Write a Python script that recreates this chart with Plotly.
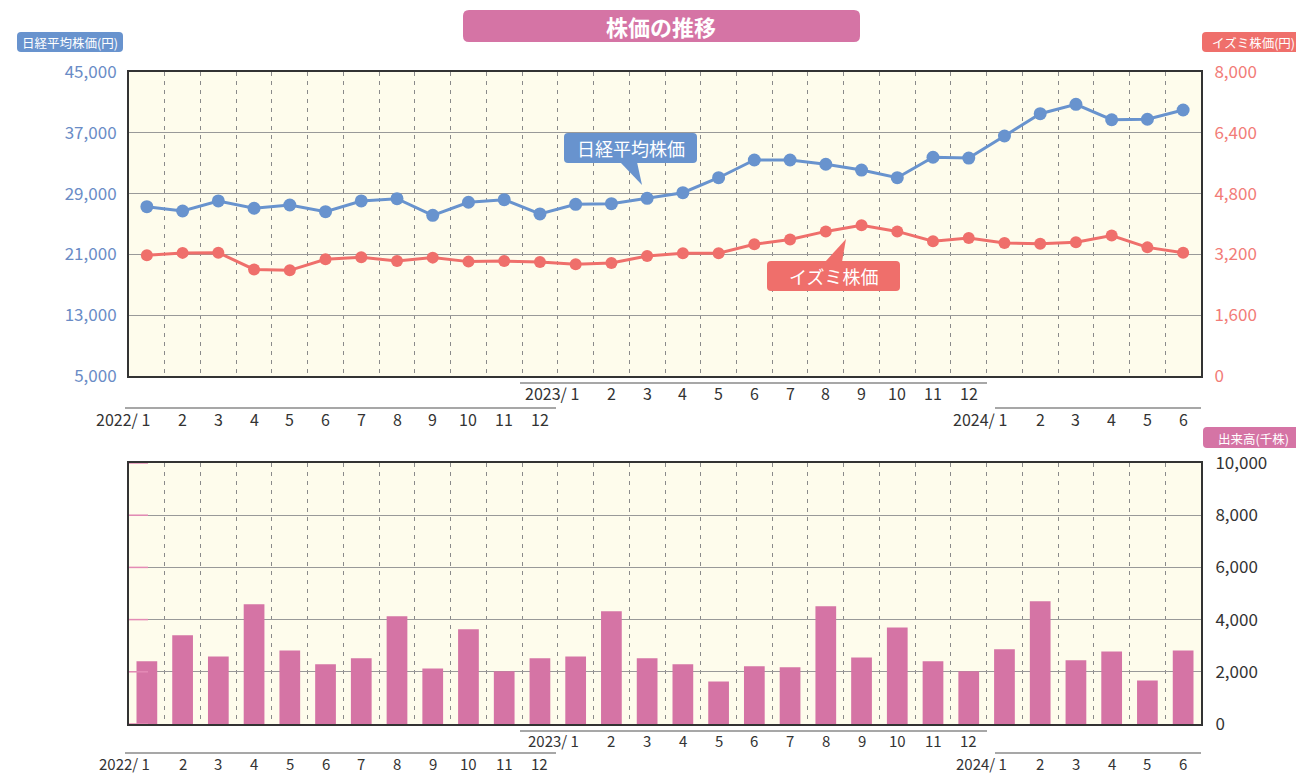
import plotly.graph_objects as go

# ----------------------------------------
# data
# ----------------------------------------
years = [2022] * 12 + [2023] * 12 + [2024] * 6
months = list(range(1, 13)) + list(range(1, 13)) + list(range(1, 7))

nikkei = [27280, 26710, 28030, 27070, 27500, 26620, 28030, 28330, 26140, 27860, 28200, 26320,
          27590, 27670, 28380, 29120, 31090, 33420, 33420, 32860, 32100, 31090, 33780, 33680,
          36580, 39510, 40750, 38720, 38780, 40000]
izumi = [3180, 3240, 3245, 2805, 2780, 3070, 3125, 3025, 3115, 3010, 3025, 3000,
         2940, 2975, 3160, 3230, 3230, 3465, 3590, 3805, 3965, 3805, 3545, 3630,
         3500, 3480, 3520, 3695, 3385, 3245]
volume = [2400, 3400, 2590, 4590, 2820, 2290, 2520, 4130, 2130, 3630, 2020, 2520,
          2590, 4320, 2520, 2290, 1630, 2210, 2170, 4510, 2550, 3700, 2400, 2020,
          2860, 4700, 2440, 2780, 1670, 2820]

nikkei_ticks = [5000, 13000, 21000, 29000, 37000, 45000]
izumi_ticks = [0, 1600, 3200, 4800, 6400, 8000]
volume_ticks = [0, 2000, 4000, 6000, 8000, 10000]

# ----------------------------------------
# colours / geometry
# ----------------------------------------
BLUE = "#6893CE"
RED = "#EF6F6B"
PINK = "#D574A5"
BG = "#FEFCEC"
FONT = "Noto Sans CJK JP"

OFF = 8  # page body margin
W, H = 1304 - OFF, 773 - OFF
# plot area in screen pixels: x 129..1201, y 72..724
L, T = 129 - OFF, 72 - OFF
R, B = W - (1201 - OFF), H - (724 - OFF)
PW, PH = W - L - R, H - T - B


def px(X):
    return (X - OFF - L) / PW


def py(Y):
    return (H - B - (Y - OFF)) / PH


def rrect(x0, y0, x1, y1, r=5):
    # rounded rectangle path in paper coords from a screen-pixel box
    a, b, c, d = px(x0), px(x1), py(y0), py(y1)
    rx, ry = r / PW, r / PH
    return (f"M {a+rx},{c} L {b-rx},{c} Q {b},{c} {b},{c-ry} "
            f"L {b},{d+ry} Q {b},{d} {b-rx},{d} L {a+rx},{d} "
            f"Q {a},{d} {a},{d+ry} L {a},{c-ry} Q {a},{c} {a+rx},{c} Z")


def tri(p1, p2, p3):
    return (f"M {px(p1[0])},{py(p1[1])} L {px(p2[0])},{py(p2[1])} "
            f"L {px(p3[0])},{py(p3[1])} Z")


def label(text, X, Y, size, color="white", **kw):
    return dict(text=text, x=px(X), y=py(Y), xref="paper", yref="paper",
                xanchor="center", yanchor="middle", showarrow=False,
                font=dict(size=size, color=color, family=FONT), **kw)


x = list(range(len(months)))
bounds = [i + 0.5 for i in range(len(months) - 1)]

fig = go.Figure()

fig.add_trace(go.Scatter(
    x=x, y=nikkei, mode="lines+markers", name="日経平均株価",
    line=dict(color=BLUE, width=3), marker=dict(size=13, color=BLUE),
    xaxis="x", yaxis="y", showlegend=False, hoverinfo="skip",
))
fig.add_trace(go.Scatter(
    x=x, y=izumi, mode="lines+markers", name="イズミ株価",
    line=dict(color=RED, width=3), marker=dict(size=12, color=RED),
    xaxis="x", yaxis="y2", showlegend=False, hoverinfo="skip",
))
fig.add_trace(go.Bar(
    x=x, y=volume, name="出来高", marker=dict(color=PINK, line=dict(width=0)),
    xaxis="x2", yaxis="y3", showlegend=False, hoverinfo="skip",
))

xcommon = dict(
    range=[-0.5, len(months) - 0.5], tickvals=bounds, showticklabels=False,
    showgrid=True, gridcolor="#8a8a8a", griddash="4px,5px", gridwidth=1,
    showline=True, linecolor="#333", linewidth=2, mirror=True,
    zeroline=False, ticks="",
)
top_dom = [py(376), 1.0]
bot_dom = [0.0, py(463)]

fig.update_layout(
    width=W, height=H,
    margin=dict(l=L, r=R, t=T, b=B),
    paper_bgcolor="white", plot_bgcolor=BG,
    font=dict(family=FONT, color="#333"),
    bargap=0.42,
    xaxis=dict(domain=[0, 1], anchor="y", **xcommon),
    xaxis2=dict(domain=[0, 1], anchor="y3", **xcommon),
    yaxis=dict(
        domain=top_dom, range=[5000, 45000], tickvals=nikkei_ticks,
        tickformat=",d", tickfont=dict(size=17, color="#6A8CC6", family=FONT),
        showgrid=True, gridcolor="#999", gridwidth=1,
        showline=True, linecolor="#333", linewidth=2, mirror=True,
        zeroline=False, ticks="outside", ticklen=7, tickcolor="rgba(0,0,0,0)",
    ),
    yaxis2=dict(
        overlaying="y", side="right", range=[0, 8000], tickvals=izumi_ticks,
        tickformat=",d", tickfont=dict(size=17, color="#F27C78", family=FONT),
        showgrid=False, zeroline=False,
        ticks="outside", ticklen=9, tickcolor="rgba(0,0,0,0)",
    ),
    yaxis3=dict(
        domain=bot_dom, anchor="x2", side="right", range=[0, 10000],
        tickvals=volume_ticks, tickformat=",d",
        tickfont=dict(size=17, color="#333", family=FONT),
        showgrid=True, gridcolor="#999", gridwidth=1,
        showline=True, linecolor="#333", linewidth=2, mirror=True,
        zeroline=False, ticks="outside", ticklen=9, tickcolor="rgba(0,0,0,0)",
    ),
)

shapes = []
annotations = []

# title badge
shapes.append(dict(type="path", path=rrect(463, 10, 860, 42, 6), xref="paper", yref="paper",
                   fillcolor=PINK, line=dict(width=0), layer="above"))
annotations.append(label("<b>株価の推移</b>", 661, 26, 22))

# axis badges
badges = [
    ("日経平均株価(円)", 17, 32, 123, 52, BLUE),
    ("イズミ株価(円)", 1202, 32, 1306, 52, RED),
    ("出来高(千株)", 1203, 427, 1306, 448, PINK),
]
for txt, x0, y0, x1, y1, col in badges:
    shapes.append(dict(type="path", path=rrect(x0, y0, x1, y1, 4), xref="paper", yref="paper",
                       fillcolor=col, line=dict(width=0), layer="above"))
    annotations.append(label(txt, (x0 + min(x1, 1304)) / 2, (y0 + y1) / 2 + 0.5, 12.5))

# callouts
shapes.append(dict(type="path", path=rrect(564, 133, 697, 163, 4), xref="paper", yref="paper",
                   fillcolor=BLUE, line=dict(width=0), layer="above"))
shapes.append(dict(type="path", path=tri((620, 162), (637, 162), (642, 185)), xref="paper",
                   yref="paper", fillcolor=BLUE, line=dict(width=0), layer="above"))
annotations.append(label("日経平均株価", 630.5, 148, 18))
shapes.append(dict(type="path", path=rrect(767, 261, 900, 291, 4), xref="paper", yref="paper",
                   fillcolor=RED, line=dict(width=0), layer="above"))
shapes.append(dict(type="path", path=tri((825, 262), (842, 262), (846, 239)), xref="paper",
                   yref="paper", fillcolor=RED, line=dict(width=0), layer="above"))
annotations.append(label("イズミ株価", 833.5, 276, 18))

# pink inner ticks on the left of the volume panel
for v in volume_ticks:
    shapes.append(dict(type="line", xref="paper", yref="y3", x0=0, x1=px(148), y0=v, y1=v,
                       line=dict(color="#E48BB6", width=1.5), layer="above"))

# month labels, two staggered rows per panel
rows = {
    "x": {"upper": 393, "lower": 419, "line_up": 383, "line_low": 408, "size": 16},
    "x2": {"upper": 740, "lower": 763, "line_up": 731, "line_low": 753, "size": 15},
}
for xr, r in rows.items():
    for i, (yy, mm) in enumerate(zip(years, months)):
        ypix = r["upper"] if yy == 2023 else r["lower"]
        if mm == 1:
            annotations.append(dict(text=f"{yy}/ 1", x=i, xref=xr, y=py(ypix), yref="paper",
                                    xanchor="right", yanchor="middle", xshift=5, showarrow=False,
                                    font=dict(size=r["size"], color="#333", family=FONT)))
        else:
            annotations.append(dict(text=str(mm), x=i, xref=xr, y=py(ypix), yref="paper",
                                    xanchor="center", yanchor="middle", showarrow=False,
                                    font=dict(size=r["size"], color="#333", family=FONT)))
    # group lines above each year's labels
    for x0, x1, key in [(125, 556, "line_low"), (520, 987, "line_up"), (995, 1201, "line_low")]:
        shapes.append(dict(type="line", xref="paper", yref="paper", x0=px(x0), x1=px(x1),
                           y0=py(r[key]), y1=py(r[key]), line=dict(color="#8a8a8a", width=1.5)))

fig.update_layout(shapes=shapes, annotations=annotations)

fig.write_html("out.html")
